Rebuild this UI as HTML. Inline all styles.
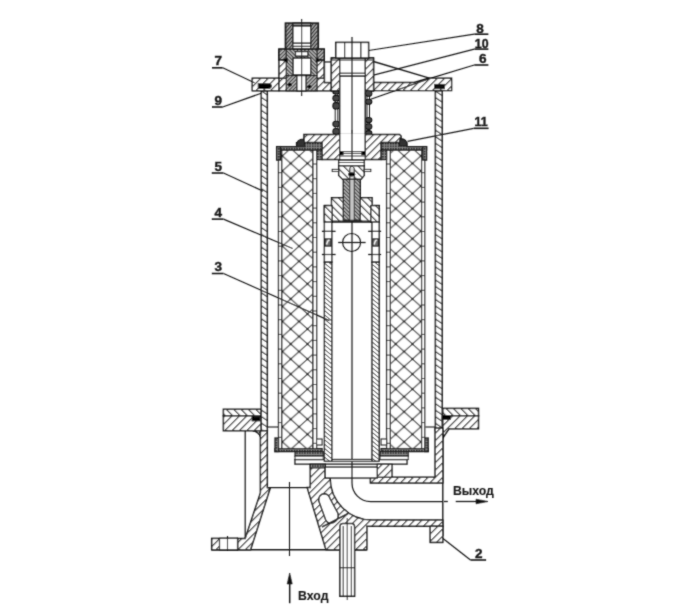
<!DOCTYPE html>
<html><head><meta charset="utf-8"><style>
html,body{margin:0;padding:0;background:#fff;}
svg{display:block;}
text{font-family:"Liberation Sans",sans-serif;fill:#1a1a1a;font-weight:bold;}
</style></head><body>
<svg width="698" height="612" viewBox="0 0 698 612"><defs><filter id='bl' x='-5%' y='-5%' width='110%' height='110%'><feConvolveMatrix order='3' kernelMatrix='0.3 1 0.3 1 6 1 0.3 1 0.3' edgeMode='none'/></filter><pattern id="hA" patternUnits="userSpaceOnUse" width="5.2" height="5.2" patternTransform="rotate(45)">
 <rect width="5.2" height="5.2" fill="#fff"/><line x1="0" y1="-1" x2="0" y2="6.2" stroke="#1a1a1a" stroke-width="2.2"/></pattern><pattern id="hB" patternUnits="userSpaceOnUse" width="5.2" height="5.2" patternTransform="rotate(-45)">
 <rect width="5.2" height="5.2" fill="#fff"/><line x1="0" y1="-1" x2="0" y2="6.2" stroke="#1a1a1a" stroke-width="2.2"/></pattern><pattern id="hW" patternUnits="userSpaceOnUse" width="5.4" height="5.4" patternTransform="rotate(-56)">
 <rect width="5.4" height="5.4" fill="#fff"/><line x1="0" y1="-1" x2="0" y2="6.4" stroke="#1a1a1a" stroke-width="2.2"/></pattern><pattern id="hD" patternUnits="userSpaceOnUse" width="2.6" height="2.6" patternTransform="rotate(-45)">
 <rect width="2.6" height="2.6" fill="#aaa"/><line x1="0" y1="-1" x2="0" y2="3.6" stroke="#111" stroke-width="1.3"/></pattern><pattern id="hD2" patternUnits="userSpaceOnUse" width="2.6" height="2.6" patternTransform="rotate(45)">
 <rect width="2.6" height="2.6" fill="#aaa"/><line x1="0" y1="-1" x2="0" y2="3.6" stroke="#111" stroke-width="1.3"/></pattern><pattern id="hT" patternUnits="userSpaceOnUse" width="3.3" height="3.3" patternTransform="rotate(-50)">
 <rect width="3.3" height="3.3" fill="#fff"/><line x1="0" y1="-1" x2="0" y2="4.3" stroke="#1a1a1a" stroke-width="1.6"/></pattern><pattern id="hTh" patternUnits="userSpaceOnUse" width="2.6" height="2.6" patternTransform="rotate(40)">
 <rect width="2.6" height="2.6" fill="#999"/><line x1="0" y1="-1" x2="0" y2="3.6" stroke="#0a0a0a" stroke-width="1.5"/></pattern><pattern id="dots" patternUnits="userSpaceOnUse" width="2.6" height="2.6">
 <rect width="2.6" height="2.6" fill="#888"/><rect width="1.4" height="1.4" fill="#111"/></pattern><pattern id="xh" patternUnits="userSpaceOnUse" width="16.7" height="15.05" x="282.4" y="306.4">
 <rect width="16.7" height="15.05" fill="#fff"/>
 <line x1="-1.67" y1="-1.505" x2="18.369999999999997" y2="16.555" stroke="#303030" stroke-width="1.1"/>
 <line x1="-1.67" y1="16.555" x2="18.369999999999997" y2="-1.505" stroke="#303030" stroke-width="1.1"/>
 <circle cx="0" cy="0" r="1.2" fill="#151515"/><circle cx="16.7" cy="0" r="1.2" fill="#151515"/>
 <circle cx="0" cy="15.05" r="1.2" fill="#151515"/><circle cx="16.7" cy="15.05" r="1.2" fill="#151515"/>
 <circle cx="8.35" cy="7.525" r="1.2" fill="#151515"/></pattern><pattern id="xh2" patternUnits="userSpaceOnUse" width="16.7" height="15.05" x="420.8" y="306.4">
 <rect width="16.7" height="15.05" fill="#fff"/>
 <line x1="-1.67" y1="-1.505" x2="18.369999999999997" y2="16.555" stroke="#303030" stroke-width="1.1"/>
 <line x1="-1.67" y1="16.555" x2="18.369999999999997" y2="-1.505" stroke="#303030" stroke-width="1.1"/>
 <circle cx="0" cy="0" r="1.2" fill="#151515"/><circle cx="16.7" cy="0" r="1.2" fill="#151515"/>
 <circle cx="0" cy="15.05" r="1.2" fill="#151515"/><circle cx="16.7" cy="15.05" r="1.2" fill="#151515"/>
 <circle cx="8.35" cy="7.525" r="1.2" fill="#151515"/></pattern></defs><g filter="url(#bl)"><rect x="261.3" y="90.8" width="6.0" height="339.9" fill="url(#hW)" stroke="#1a1a1a" stroke-width="1.5" />
<rect x="435.4" y="90.8" width="6.8" height="339.9" fill="url(#hW)" stroke="#1a1a1a" stroke-width="1.5" />
<polygon points="252.2,78.3 279,78.3 279,90.8 252.2,90.8" fill="url(#hA)" stroke="#1a1a1a" stroke-width="1.38" />
<polygon points="279,78.3 324.5,78.3 324.5,82.5 331.4,82.5 331.4,90.8 279,90.8" fill="url(#hA)" stroke="#1a1a1a" stroke-width="1.38" />
<polygon points="373.5,82.5 414,82.5 428.5,78.3 451.6,78.3 451.6,90.6 373.5,90.6" fill="url(#hA)" stroke="#1a1a1a" stroke-width="1.38" />
<path d="M258.3,83.8 L269.5,83.8 Q273.5,86 269.5,88.4 L258.3,88.4 Z" fill="#000" stroke="#1a1a1a" stroke-width="1.12" />
<rect x="434.5" y="84.4" width="10.0" height="4.3" fill="#111" stroke="#1a1a1a" stroke-width="1.0" />
<rect x="279" y="49.2" width="45.2" height="29.1" fill="url(#hA)" stroke="#1a1a1a" stroke-width="1.5" />
<rect x="279" y="49.2" width="45.2" height="10.8" fill="url(#hD2)" stroke="#1a1a1a" stroke-width="1.5" />
<rect x="286.2" y="49.2" width="30.9" height="26.4" fill="url(#hD)" stroke="#1a1a1a" stroke-width="1.12" />
<rect x="286.2" y="75.6" width="30.9" height="15.2" fill="url(#hD2)" stroke="#1a1a1a" stroke-width="1.12" />
<rect x="296.9" y="75.6" width="9.1" height="15.2" fill="#fff" stroke="#1a1a1a" stroke-width="1.25" />
<ellipse cx="289.8" cy="84.7" rx="2.2" ry="1.8" fill="#000"/>
<ellipse cx="309.4" cy="86.8" rx="2.2" ry="1.8" fill="#000"/>
<rect x="293.1" y="58.1" width="17.6" height="16.7" fill="#fff" stroke="#1a1a1a" stroke-width="1.38" />
<rect x="295.5" y="51.6" width="12.4" height="4.5" fill="#fff" stroke="#1a1a1a" stroke-width="1.25" />
<polygon points="281,60 287.5,58 287.5,62.5" fill="#000" stroke="#1a1a1a" stroke-width="0.62" />
<polygon points="322.5,60 316,58 316,62.5" fill="#000" stroke="#1a1a1a" stroke-width="0.62" />
<rect x="285.5" y="23.2" width="32.7" height="26.0" fill="url(#hTh)" stroke="#1a1a1a" stroke-width="1.75" />
<rect x="292.9" y="23.2" width="17.8" height="2.8" fill="#888" stroke="#1a1a1a" stroke-width="1.25" />
<rect x="292.9" y="26" width="17.8" height="17.3" fill="#fff" stroke="#1a1a1a" stroke-width="1.38" />
<rect x="292.9" y="43.3" width="17.8" height="5.2" fill="#fff" stroke="#1a1a1a" stroke-width="1.12" />
<line x1="292.9" y1="46.3" x2="310.7" y2="46.3" stroke="#1a1a1a" stroke-width="1.12" />
<rect x="324.5" y="62" width="6.9" height="20.5" fill="#fff" stroke="#1a1a1a" stroke-width="1.38" />
<line x1="301.7" y1="19" x2="301.7" y2="96" stroke="#1a1a1a" stroke-width="1.0" />
<rect x="331.4" y="58" width="42.1" height="32.8" fill="#fff" stroke="#1a1a1a" stroke-width="1.5" />
<rect x="331.4" y="58" width="8.3" height="32.8" fill="url(#hA)" stroke="#1a1a1a" stroke-width="1.38" />
<rect x="365.2" y="58" width="8.3" height="32.8" fill="url(#hA)" stroke="#1a1a1a" stroke-width="1.38" />
<line x1="331.4" y1="60" x2="373.5" y2="60" stroke="#1a1a1a" stroke-width="1.0" />
<rect x="339.7" y="73.2" width="25.5" height="3.0" fill="#fff" stroke="#1a1a1a" stroke-width="1.12" />
<rect x="335.8" y="42.4" width="32.8" height="15.6" fill="#fff" stroke="#1a1a1a" stroke-width="1.5" />
<line x1="344.6" y1="42.4" x2="344.6" y2="58" stroke="#1a1a1a" stroke-width="1.25" />
<line x1="360.8" y1="42.4" x2="360.8" y2="58" stroke="#1a1a1a" stroke-width="1.25" />
<rect x="339.7" y="76.2" width="25.5" height="75.4" fill="#fff" stroke="#1a1a1a" stroke-width="1.5" />
<line x1="352.0" y1="37" x2="352.0" y2="461" stroke="#1a1a1a" stroke-width="1.25" />
<line x1="335.2" y1="90.8" x2="335.2" y2="135" stroke="#1a1a1a" stroke-width="1.0" />
<line x1="337.8" y1="90.8" x2="337.8" y2="135" stroke="#1a1a1a" stroke-width="1.0" />
<rect x="332.9" y="90.6" width="6.6" height="3.4" rx="3.2" ry="2.8" fill="#444" stroke="#111" stroke-width="1.1"/>
<rect x="332.9" y="95.4" width="6.6" height="5.6" rx="3.2" ry="2.8" fill="#444" stroke="#111" stroke-width="1.1"/>
<rect x="332.9" y="102.6" width="6.6" height="6.4" rx="3.2" ry="2.8" fill="#444" stroke="#111" stroke-width="1.1"/>
<rect x="332.9" y="121.3" width="6.6" height="5.5" rx="3.2" ry="2.8" fill="#444" stroke="#111" stroke-width="1.1"/>
<rect x="332.9" y="128.5" width="6.6" height="6.0" rx="3.2" ry="2.8" fill="#444" stroke="#111" stroke-width="1.1"/>
<line x1="367" y1="90.8" x2="367" y2="135" stroke="#1a1a1a" stroke-width="1.0" />
<line x1="369.5" y1="90.8" x2="369.5" y2="135" stroke="#1a1a1a" stroke-width="1.0" />
<rect x="365.4" y="90.3" width="6.4" height="5.9" rx="3.2" ry="2.8" fill="#444" stroke="#111" stroke-width="1.1"/>
<rect x="365.4" y="99.2" width="6.4" height="5.1" rx="3.2" ry="2.8" fill="#444" stroke="#111" stroke-width="1.1"/>
<rect x="365.4" y="117.5" width="6.4" height="5.1" rx="3.2" ry="2.8" fill="#444" stroke="#111" stroke-width="1.1"/>
<rect x="365.4" y="123.8" width="6.4" height="5.6" rx="3.2" ry="2.8" fill="#444" stroke="#111" stroke-width="1.1"/>
<rect x="365.4" y="130.6" width="6.4" height="4.7" rx="3.2" ry="2.8" fill="#444" stroke="#111" stroke-width="1.1"/>
<polygon points="304,134.5 399.5,134.5 401,136 401,142.6 381.1,142.6 381.1,159.6 322.1,159.6 322.1,142.6 304,142.6" fill="url(#hA)" stroke="#1a1a1a" stroke-width="1.5" />
<rect x="339.7" y="133.5" width="25.5" height="18.1" fill="#fff" stroke="none" stroke-width="0.0" />
<line x1="339.7" y1="133" x2="339.7" y2="151.6" stroke="#1a1a1a" stroke-width="1.38" />
<line x1="365.2" y1="133" x2="365.2" y2="151.6" stroke="#1a1a1a" stroke-width="1.38" />
<rect x="339.7" y="151.6" width="25.5" height="8.0" fill="#fff" stroke="#1a1a1a" stroke-width="1.12" />
<line x1="339.7" y1="153.5" x2="365.2" y2="153.5" stroke="#1a1a1a" stroke-width="0.88" />
<line x1="339.7" y1="156" x2="365.2" y2="156" stroke="#1a1a1a" stroke-width="0.88" />
<rect x="339.7" y="151.6" width="3.5" height="3.4" fill="#000" stroke="#1a1a1a" stroke-width="0.5" />
<rect x="361.7" y="151.6" width="3.5" height="3.4" fill="#000" stroke="#1a1a1a" stroke-width="0.5" />
<line x1="352.0" y1="130" x2="352.0" y2="160" stroke="#1a1a1a" stroke-width="1.25" />
<rect x="281.6" y="150.1" width="31.3" height="298.5" fill="url(#xh)" stroke="#1a1a1a" stroke-width="1.25" />
<rect x="278.5" y="150.1" width="3.1" height="298.5" fill="#fff" stroke="#1a1a1a" stroke-width="1.25" />
<rect x="312.9" y="150.1" width="3.7" height="298.5" fill="#fff" stroke="#1a1a1a" stroke-width="1.25" />
<line x1="278.5" y1="158" x2="281.6" y2="158" stroke="#1a1a1a" stroke-width="0.88" />
<line x1="312.9" y1="164" x2="316.6" y2="164" stroke="#1a1a1a" stroke-width="0.88" />
<line x1="278.5" y1="172.7" x2="281.6" y2="172.7" stroke="#1a1a1a" stroke-width="0.88" />
<line x1="312.9" y1="178.7" x2="316.6" y2="178.7" stroke="#1a1a1a" stroke-width="0.88" />
<line x1="278.5" y1="187.39999999999998" x2="281.6" y2="187.39999999999998" stroke="#1a1a1a" stroke-width="0.88" />
<line x1="312.9" y1="193.39999999999998" x2="316.6" y2="193.39999999999998" stroke="#1a1a1a" stroke-width="0.88" />
<line x1="278.5" y1="202.09999999999997" x2="281.6" y2="202.09999999999997" stroke="#1a1a1a" stroke-width="0.88" />
<line x1="312.9" y1="208.09999999999997" x2="316.6" y2="208.09999999999997" stroke="#1a1a1a" stroke-width="0.88" />
<line x1="278.5" y1="216.79999999999995" x2="281.6" y2="216.79999999999995" stroke="#1a1a1a" stroke-width="0.88" />
<line x1="312.9" y1="222.79999999999995" x2="316.6" y2="222.79999999999995" stroke="#1a1a1a" stroke-width="0.88" />
<line x1="278.5" y1="231.49999999999994" x2="281.6" y2="231.49999999999994" stroke="#1a1a1a" stroke-width="0.88" />
<line x1="312.9" y1="237.49999999999994" x2="316.6" y2="237.49999999999994" stroke="#1a1a1a" stroke-width="0.88" />
<line x1="278.5" y1="246.19999999999993" x2="281.6" y2="246.19999999999993" stroke="#1a1a1a" stroke-width="0.88" />
<line x1="312.9" y1="252.19999999999993" x2="316.6" y2="252.19999999999993" stroke="#1a1a1a" stroke-width="0.88" />
<line x1="278.5" y1="260.8999999999999" x2="281.6" y2="260.8999999999999" stroke="#1a1a1a" stroke-width="0.88" />
<line x1="312.9" y1="266.8999999999999" x2="316.6" y2="266.8999999999999" stroke="#1a1a1a" stroke-width="0.88" />
<line x1="278.5" y1="275.5999999999999" x2="281.6" y2="275.5999999999999" stroke="#1a1a1a" stroke-width="0.88" />
<line x1="312.9" y1="281.5999999999999" x2="316.6" y2="281.5999999999999" stroke="#1a1a1a" stroke-width="0.88" />
<line x1="278.5" y1="290.2999999999999" x2="281.6" y2="290.2999999999999" stroke="#1a1a1a" stroke-width="0.88" />
<line x1="312.9" y1="296.2999999999999" x2="316.6" y2="296.2999999999999" stroke="#1a1a1a" stroke-width="0.88" />
<line x1="278.5" y1="304.9999999999999" x2="281.6" y2="304.9999999999999" stroke="#1a1a1a" stroke-width="0.88" />
<line x1="312.9" y1="310.9999999999999" x2="316.6" y2="310.9999999999999" stroke="#1a1a1a" stroke-width="0.88" />
<line x1="278.5" y1="319.6999999999999" x2="281.6" y2="319.6999999999999" stroke="#1a1a1a" stroke-width="0.88" />
<line x1="312.9" y1="325.6999999999999" x2="316.6" y2="325.6999999999999" stroke="#1a1a1a" stroke-width="0.88" />
<line x1="278.5" y1="334.39999999999986" x2="281.6" y2="334.39999999999986" stroke="#1a1a1a" stroke-width="0.88" />
<line x1="312.9" y1="340.39999999999986" x2="316.6" y2="340.39999999999986" stroke="#1a1a1a" stroke-width="0.88" />
<line x1="278.5" y1="349.09999999999985" x2="281.6" y2="349.09999999999985" stroke="#1a1a1a" stroke-width="0.88" />
<line x1="312.9" y1="355.09999999999985" x2="316.6" y2="355.09999999999985" stroke="#1a1a1a" stroke-width="0.88" />
<line x1="278.5" y1="363.79999999999984" x2="281.6" y2="363.79999999999984" stroke="#1a1a1a" stroke-width="0.88" />
<line x1="312.9" y1="369.79999999999984" x2="316.6" y2="369.79999999999984" stroke="#1a1a1a" stroke-width="0.88" />
<line x1="278.5" y1="378.49999999999983" x2="281.6" y2="378.49999999999983" stroke="#1a1a1a" stroke-width="0.88" />
<line x1="312.9" y1="384.49999999999983" x2="316.6" y2="384.49999999999983" stroke="#1a1a1a" stroke-width="0.88" />
<line x1="278.5" y1="393.1999999999998" x2="281.6" y2="393.1999999999998" stroke="#1a1a1a" stroke-width="0.88" />
<line x1="312.9" y1="399.1999999999998" x2="316.6" y2="399.1999999999998" stroke="#1a1a1a" stroke-width="0.88" />
<line x1="278.5" y1="407.8999999999998" x2="281.6" y2="407.8999999999998" stroke="#1a1a1a" stroke-width="0.88" />
<line x1="312.9" y1="413.8999999999998" x2="316.6" y2="413.8999999999998" stroke="#1a1a1a" stroke-width="0.88" />
<line x1="278.5" y1="422.5999999999998" x2="281.6" y2="422.5999999999998" stroke="#1a1a1a" stroke-width="0.88" />
<line x1="312.9" y1="428.5999999999998" x2="316.6" y2="428.5999999999998" stroke="#1a1a1a" stroke-width="0.88" />
<line x1="278.5" y1="437.2999999999998" x2="281.6" y2="437.2999999999998" stroke="#1a1a1a" stroke-width="0.88" />
<line x1="312.9" y1="443.2999999999998" x2="316.6" y2="443.2999999999998" stroke="#1a1a1a" stroke-width="0.88" />
<polygon points="276.6,146.6 296.5,146.6 296.5,142.6 322.1,142.6 322.1,150.1 276.6,150.1" fill="url(#dots)" stroke="#1a1a1a" stroke-width="1.25" />
<rect x="276.6" y="146.6" width="3.8" height="13.5" fill="url(#dots)" stroke="#1a1a1a" stroke-width="1.25" />
<rect x="316.6" y="150.1" width="5.5" height="9.5" fill="url(#dots)" stroke="#1a1a1a" stroke-width="1.12" />
<rect x="275.0" y="448.6" width="47.1" height="3.0" fill="url(#dots)" stroke="#1a1a1a" stroke-width="1.25" />
<rect x="275" y="438" width="3.5" height="13.6" fill="url(#dots)" stroke="#1a1a1a" stroke-width="1.25" />
<rect x="316.6" y="439" width="5.5" height="6" fill="#fff" stroke="#1a1a1a" stroke-width="1.12" />
<rect x="390.3" y="150.1" width="31.3" height="298.5" fill="url(#xh2)" stroke="#1a1a1a" stroke-width="1.25" />
<rect x="421.6" y="150.1" width="3.1" height="298.5" fill="#fff" stroke="#1a1a1a" stroke-width="1.25" />
<rect x="386.6" y="150.1" width="3.7" height="298.5" fill="#fff" stroke="#1a1a1a" stroke-width="1.25" />
<line x1="421.6" y1="158" x2="424.7" y2="158" stroke="#1a1a1a" stroke-width="0.88" />
<line x1="386.6" y1="164" x2="390.3" y2="164" stroke="#1a1a1a" stroke-width="0.88" />
<line x1="421.6" y1="172.7" x2="424.7" y2="172.7" stroke="#1a1a1a" stroke-width="0.88" />
<line x1="386.6" y1="178.7" x2="390.3" y2="178.7" stroke="#1a1a1a" stroke-width="0.88" />
<line x1="421.6" y1="187.39999999999998" x2="424.7" y2="187.39999999999998" stroke="#1a1a1a" stroke-width="0.88" />
<line x1="386.6" y1="193.39999999999998" x2="390.3" y2="193.39999999999998" stroke="#1a1a1a" stroke-width="0.88" />
<line x1="421.6" y1="202.09999999999997" x2="424.7" y2="202.09999999999997" stroke="#1a1a1a" stroke-width="0.88" />
<line x1="386.6" y1="208.09999999999997" x2="390.3" y2="208.09999999999997" stroke="#1a1a1a" stroke-width="0.88" />
<line x1="421.6" y1="216.79999999999995" x2="424.7" y2="216.79999999999995" stroke="#1a1a1a" stroke-width="0.88" />
<line x1="386.6" y1="222.79999999999995" x2="390.3" y2="222.79999999999995" stroke="#1a1a1a" stroke-width="0.88" />
<line x1="421.6" y1="231.49999999999994" x2="424.7" y2="231.49999999999994" stroke="#1a1a1a" stroke-width="0.88" />
<line x1="386.6" y1="237.49999999999994" x2="390.3" y2="237.49999999999994" stroke="#1a1a1a" stroke-width="0.88" />
<line x1="421.6" y1="246.19999999999993" x2="424.7" y2="246.19999999999993" stroke="#1a1a1a" stroke-width="0.88" />
<line x1="386.6" y1="252.19999999999993" x2="390.3" y2="252.19999999999993" stroke="#1a1a1a" stroke-width="0.88" />
<line x1="421.6" y1="260.8999999999999" x2="424.7" y2="260.8999999999999" stroke="#1a1a1a" stroke-width="0.88" />
<line x1="386.6" y1="266.8999999999999" x2="390.3" y2="266.8999999999999" stroke="#1a1a1a" stroke-width="0.88" />
<line x1="421.6" y1="275.5999999999999" x2="424.7" y2="275.5999999999999" stroke="#1a1a1a" stroke-width="0.88" />
<line x1="386.6" y1="281.5999999999999" x2="390.3" y2="281.5999999999999" stroke="#1a1a1a" stroke-width="0.88" />
<line x1="421.6" y1="290.2999999999999" x2="424.7" y2="290.2999999999999" stroke="#1a1a1a" stroke-width="0.88" />
<line x1="386.6" y1="296.2999999999999" x2="390.3" y2="296.2999999999999" stroke="#1a1a1a" stroke-width="0.88" />
<line x1="421.6" y1="304.9999999999999" x2="424.7" y2="304.9999999999999" stroke="#1a1a1a" stroke-width="0.88" />
<line x1="386.6" y1="310.9999999999999" x2="390.3" y2="310.9999999999999" stroke="#1a1a1a" stroke-width="0.88" />
<line x1="421.6" y1="319.6999999999999" x2="424.7" y2="319.6999999999999" stroke="#1a1a1a" stroke-width="0.88" />
<line x1="386.6" y1="325.6999999999999" x2="390.3" y2="325.6999999999999" stroke="#1a1a1a" stroke-width="0.88" />
<line x1="421.6" y1="334.39999999999986" x2="424.7" y2="334.39999999999986" stroke="#1a1a1a" stroke-width="0.88" />
<line x1="386.6" y1="340.39999999999986" x2="390.3" y2="340.39999999999986" stroke="#1a1a1a" stroke-width="0.88" />
<line x1="421.6" y1="349.09999999999985" x2="424.7" y2="349.09999999999985" stroke="#1a1a1a" stroke-width="0.88" />
<line x1="386.6" y1="355.09999999999985" x2="390.3" y2="355.09999999999985" stroke="#1a1a1a" stroke-width="0.88" />
<line x1="421.6" y1="363.79999999999984" x2="424.7" y2="363.79999999999984" stroke="#1a1a1a" stroke-width="0.88" />
<line x1="386.6" y1="369.79999999999984" x2="390.3" y2="369.79999999999984" stroke="#1a1a1a" stroke-width="0.88" />
<line x1="421.6" y1="378.49999999999983" x2="424.7" y2="378.49999999999983" stroke="#1a1a1a" stroke-width="0.88" />
<line x1="386.6" y1="384.49999999999983" x2="390.3" y2="384.49999999999983" stroke="#1a1a1a" stroke-width="0.88" />
<line x1="421.6" y1="393.1999999999998" x2="424.7" y2="393.1999999999998" stroke="#1a1a1a" stroke-width="0.88" />
<line x1="386.6" y1="399.1999999999998" x2="390.3" y2="399.1999999999998" stroke="#1a1a1a" stroke-width="0.88" />
<line x1="421.6" y1="407.8999999999998" x2="424.7" y2="407.8999999999998" stroke="#1a1a1a" stroke-width="0.88" />
<line x1="386.6" y1="413.8999999999998" x2="390.3" y2="413.8999999999998" stroke="#1a1a1a" stroke-width="0.88" />
<line x1="421.6" y1="422.5999999999998" x2="424.7" y2="422.5999999999998" stroke="#1a1a1a" stroke-width="0.88" />
<line x1="386.6" y1="428.5999999999998" x2="390.3" y2="428.5999999999998" stroke="#1a1a1a" stroke-width="0.88" />
<line x1="421.6" y1="437.2999999999998" x2="424.7" y2="437.2999999999998" stroke="#1a1a1a" stroke-width="0.88" />
<line x1="386.6" y1="443.2999999999998" x2="390.3" y2="443.2999999999998" stroke="#1a1a1a" stroke-width="0.88" />
<polygon points="426.6,146.6 406.7,146.6 406.7,142.6 381.1,142.6 381.1,150.1 426.6,150.1" fill="url(#dots)" stroke="#1a1a1a" stroke-width="1.25" />
<rect x="422.8" y="146.6" width="3.8" height="13.5" fill="url(#dots)" stroke="#1a1a1a" stroke-width="1.25" />
<rect x="381.1" y="150.1" width="5.5" height="9.5" fill="url(#dots)" stroke="#1a1a1a" stroke-width="1.12" />
<rect x="381.1" y="448.6" width="47.1" height="3.0" fill="url(#dots)" stroke="#1a1a1a" stroke-width="1.25" />
<rect x="424.7" y="438" width="3.5" height="13.6" fill="url(#dots)" stroke="#1a1a1a" stroke-width="1.25" />
<rect x="381.1" y="439" width="5.5" height="6" fill="#fff" stroke="#1a1a1a" stroke-width="1.12" />
<path d="M296.5,146.6 Q296,139 304,139 L305,146.6 Z" fill="#333" stroke="#1a1a1a" stroke-width="1.12" />
<path d="M407.1,146 Q407.5,138.6 400,138.6 L399,146 Z" fill="#333" stroke="#1a1a1a" stroke-width="1.12" />
<rect x="295" y="451.6" width="28.2" height="4.5" fill="url(#dots)" stroke="#1a1a1a" stroke-width="1.12" />
<rect x="295" y="456.1" width="28.2" height="3.5" fill="#fff" stroke="#1a1a1a" stroke-width="1.0" />
<rect x="380.0" y="451.6" width="28.2" height="4.5" fill="url(#dots)" stroke="#1a1a1a" stroke-width="1.12" />
<rect x="380.0" y="456.1" width="28.2" height="3.5" fill="#fff" stroke="#1a1a1a" stroke-width="1.0" />
<rect x="295" y="459.6" width="112" height="4.5" fill="#fff" stroke="#1a1a1a" stroke-width="1.38" />
<line x1="324.7" y1="461.6" x2="379" y2="461.6" stroke="#1a1a1a" stroke-width="1.0" />
<rect x="324.4" y="205.6" width="7.4" height="56.6" fill="#fff" stroke="#1a1a1a" stroke-width="1.38" />
<rect x="324.4" y="262.2" width="7.4" height="199.1" fill="url(#hT)" stroke="#1a1a1a" stroke-width="1.38" />
<rect x="325.2" y="238.8" width="5.8" height="7.4" fill="#6a6a6a" stroke="#1a1a1a" stroke-width="1.0" />
<path d="M326.59999999999997,244.5 Q328.1,239 329.6,240.5" fill="none" stroke="#eee" stroke-width="1.5" />
<rect x="372" y="205.6" width="7.2" height="56.6" fill="#fff" stroke="#1a1a1a" stroke-width="1.38" />
<rect x="372" y="262.2" width="7.2" height="199.1" fill="url(#hT)" stroke="#1a1a1a" stroke-width="1.38" />
<rect x="372.8" y="238.8" width="5.6" height="7.4" fill="#6a6a6a" stroke="#1a1a1a" stroke-width="1.0" />
<path d="M374.2,244.5 Q375.6,239 377.0,240.5" fill="none" stroke="#eee" stroke-width="1.5" />
<line x1="321.9" y1="231.3" x2="335.6" y2="231.3" stroke="#1a1a1a" stroke-width="1.25" />
<line x1="321.9" y1="254.5" x2="335.6" y2="254.5" stroke="#1a1a1a" stroke-width="1.25" />
<line x1="368.2" y1="231.3" x2="381.1" y2="231.3" stroke="#1a1a1a" stroke-width="1.25" />
<line x1="368.2" y1="254.5" x2="381.1" y2="254.5" stroke="#1a1a1a" stroke-width="1.25" />
<rect x="338.7" y="160.2" width="25.5" height="5.5" fill="#fff" stroke="#1a1a1a" stroke-width="1.25" />
<line x1="338.7" y1="162.5" x2="364.2" y2="162.5" stroke="#1a1a1a" stroke-width="1.0" />
<polygon points="338.7,165.7 364.2,165.7 364.2,175.5 361,179.4 342.6,179.4 338.7,175.5" fill="url(#hB)" stroke="#1a1a1a" stroke-width="1.38" />
<rect x="332.2" y="169.4" width="6.5" height="2.0" fill="#fff" stroke="#1a1a1a" stroke-width="1.0" />
<rect x="364.2" y="169.4" width="6.6" height="2.0" fill="#fff" stroke="#1a1a1a" stroke-width="1.0" />
<path d="M349.8,179.4 L349.8,168 Q351.9,164.5 354.2,168 L354.2,179.4 Z" fill="#ddd" stroke="#1a1a1a" stroke-width="1.0" />
<ellipse cx="351.6" cy="174.3" rx="3.6" ry="2.1" fill="#000"/>
<rect x="331.5" y="197.7" width="40.6" height="23.5" fill="url(#hB)" stroke="#1a1a1a" stroke-width="1.38" />
<rect x="324.4" y="205.6" width="7.8" height="16.4" fill="url(#hB)" stroke="#1a1a1a" stroke-width="1.38" />
<rect x="370.8" y="205.6" width="8.4" height="16.4" fill="url(#hB)" stroke="#1a1a1a" stroke-width="1.38" />
<rect x="343.3" y="179.4" width="17.0" height="40.8" fill="url(#hD)" stroke="#1a1a1a" stroke-width="1.38" />
<rect x="349.8" y="179.4" width="4.4" height="40.8" fill="#c8c8c8" stroke="#1a1a1a" stroke-width="0.88" />
<circle cx="351.6" cy="242.5" r="9" fill="none" stroke="#1a1a1a" stroke-width="1.2"/>
<line x1="338.2" y1="242.5" x2="365.6" y2="242.5" stroke="#1a1a1a" stroke-width="1.25" />
<line x1="331.8" y1="222" x2="372" y2="222" stroke="#1a1a1a" stroke-width="1.38" />
<rect x="223.4" y="409.3" width="37.6" height="6.5" fill="url(#hB)" stroke="#1a1a1a" stroke-width="1.5" />
<rect x="223.4" y="415.8" width="37.6" height="14.9" fill="url(#hA)" stroke="#1a1a1a" stroke-width="1.5" />
<rect x="252" y="416.6" width="8" height="4.4" fill="#000" stroke="#1a1a1a" stroke-width="0.75" />
<rect x="442.8" y="408.4" width="35.7" height="7.4" fill="url(#hB)" stroke="#1a1a1a" stroke-width="1.5" />
<polygon points="442.8,415.8 478.5,415.8 478.5,428.8 449,428.8 442.8,438" fill="url(#hA)" stroke="#1a1a1a" stroke-width="1.5" />
<rect x="442" y="415.7" width="8.6" height="3.9" fill="#000" stroke="#1a1a1a" stroke-width="0.75" />
<path d="M252.8,430.7 Q258.5,431.5 260.9,437.4 L260.9,430.7 Z" fill="url(#hA)" stroke="#1a1a1a" stroke-width="1.38" />
<line x1="267.6" y1="427" x2="278.5" y2="427" stroke="#1a1a1a" stroke-width="1.12" />
<line x1="425.3" y1="427" x2="436.2" y2="427" stroke="#1a1a1a" stroke-width="1.12" />
<polygon points="260.4,430.7 267.3,430.7 267.3,487.6 270.2,488 250.6,549.8 237.5,549.8 237.5,538.4 245.2,538.4 260.4,493" fill="url(#hA)" stroke="#1a1a1a" stroke-width="1.5" />
<rect x="211.7" y="538.4" width="25.8" height="11.4" fill="url(#hA)" stroke="#1a1a1a" stroke-width="1.5" />
<rect x="219.5" y="538.4" width="18.0" height="11.4" fill="#fff" stroke="#1a1a1a" stroke-width="1.25" />
<line x1="227.5" y1="536" x2="227.5" y2="551" stroke="#1a1a1a" stroke-width="1.12" />
<line x1="245.2" y1="430.7" x2="245.2" y2="538.4" stroke="#1a1a1a" stroke-width="1.25" />
<line x1="267.3" y1="487.6" x2="307.2" y2="487.6" stroke="#1a1a1a" stroke-width="1.38" />
<line x1="289.5" y1="482" x2="289.5" y2="556" stroke="#1a1a1a" stroke-width="1.12" />
<polygon points="435.1,428 442.8,428 442.8,483.1 370.4,483.1 370.4,477.3 435.1,477.3" fill="url(#hA)" stroke="#1a1a1a" stroke-width="1.5" />
<rect x="377.3" y="464.1" width="14.7" height="13.2" fill="url(#hA)" stroke="#1a1a1a" stroke-width="1.38" />
<line x1="442.8" y1="428" x2="442.8" y2="536" stroke="#1a1a1a" stroke-width="1.38" />
<path d="M310.3,464.1 L325.2,464.1 L325.2,478 L330.1,478 A42,42 0 0 0 372,520 L442.8,520 L442.8,526.3 L366.8,526.3 L366.8,549.8 L326,549.8 L307.2,487.6 L310.3,487.6 Z" fill="url(#hA)" stroke="#1a1a1a" stroke-width="1.5" />
<rect x="310.3" y="464.1" width="14.9" height="3.9" fill="url(#dots)" stroke="#1a1a1a" stroke-width="1.0" />
<rect x="325.2" y="467.1" width="52.1" height="10.9" fill="#fff" stroke="#1a1a1a" stroke-width="1.38" />
<path d="M318.8,501 Q318.2,494 324.8,493.8 Q328.6,494.2 330,498.5 L337.8,513 Q339.5,519.5 333.5,522.5 Q327.5,524.5 325.5,519.5 Z" fill="#fff" stroke="#1a1a1a" stroke-width="1.5" />
<line x1="322" y1="527" x2="348" y2="513.5" stroke="#1a1a1a" stroke-width="1.5" />
<rect x="430.2" y="526.3" width="12.6" height="16.1" fill="url(#hA)" stroke="#1a1a1a" stroke-width="1.5" />
<path d="M352.0,461 L352.0,483 A18.5,18.5 0 0 0 370.5,501.5 L442.8,501.5" fill="none" stroke="#1a1a1a" stroke-width="1.25" />
<path d="M339.9,596.2 L339.9,527 Q339.9,523.6 343,523.6 L351.5,523.6 Q354.6,523.6 354.6,527 L354.6,596.2 Z" fill="#fff" stroke="#1a1a1a" stroke-width="1.5" />
<line x1="343.2" y1="526" x2="343.2" y2="596" stroke="#1a1a1a" stroke-width="1.0" />
<line x1="351.3" y1="526" x2="351.3" y2="596" stroke="#1a1a1a" stroke-width="1.0" />
<line x1="347.2" y1="518" x2="347.2" y2="600" stroke="#1a1a1a" stroke-width="0.88" />
<line x1="339.9" y1="567.7" x2="354.6" y2="567.7" stroke="#1a1a1a" stroke-width="1.12" />
<line x1="211.7" y1="549.8" x2="339.9" y2="549.8" stroke="#1a1a1a" stroke-width="1.5" />
<line x1="354.6" y1="549.8" x2="366.8" y2="549.8" stroke="#1a1a1a" stroke-width="1.5" />
<line x1="289.7" y1="582" x2="289.7" y2="603.2" stroke="#1a1a1a" stroke-width="1.5" />
<polygon points="289.7,573 287.2,584 292.2,584" fill="#111" stroke="#1a1a1a" stroke-width="0.62" />
<line x1="444" y1="501.5" x2="447.8" y2="501.5" stroke="#1a1a1a" stroke-width="1.25" />
<line x1="455.7" y1="501.5" x2="476" y2="501.5" stroke="#1a1a1a" stroke-width="1.25" />
<polygon points="488,501.5 476,499.2 476,503.8" fill="#111" stroke="#1a1a1a" stroke-width="0.62" />
<text transform="translate(214.5,65) scale(1.1,1)" x="0" y="0" font-size="12.3" font-weight="normal" stroke="#1a1a1a" stroke-width="0.4">7</text>
<line x1="212" y1="67.8" x2="222.7" y2="67.8" stroke="#1a1a1a" stroke-width="1.62" />
<line x1="222.7" y1="67.8" x2="254.5" y2="82.8" stroke="#1a1a1a" stroke-width="1.25" />
<text transform="translate(214.5,105) scale(1.1,1)" x="0" y="0" font-size="12.3" font-weight="normal" stroke="#1a1a1a" stroke-width="0.4">9</text>
<line x1="212" y1="107" x2="222.7" y2="107" stroke="#1a1a1a" stroke-width="1.62" />
<line x1="222.7" y1="107" x2="262" y2="93" stroke="#1a1a1a" stroke-width="1.25" />
<text transform="translate(214.5,171.2) scale(1.1,1)" x="0" y="0" font-size="12.3" font-weight="normal" stroke="#1a1a1a" stroke-width="0.4">5</text>
<line x1="211.8" y1="173" x2="223.5" y2="173" stroke="#1a1a1a" stroke-width="1.62" />
<line x1="223.5" y1="173" x2="263.2" y2="191.2" stroke="#1a1a1a" stroke-width="1.25" />
<text transform="translate(214.5,217) scale(1.1,1)" x="0" y="0" font-size="12.3" font-weight="normal" stroke="#1a1a1a" stroke-width="0.4">4</text>
<line x1="211.8" y1="219.1" x2="223.5" y2="219.1" stroke="#1a1a1a" stroke-width="1.62" />
<line x1="223.5" y1="219.1" x2="292.6" y2="248.5" stroke="#1a1a1a" stroke-width="1.25" />
<text transform="translate(214.5,270.6) scale(1.1,1)" x="0" y="0" font-size="12.3" font-weight="normal" stroke="#1a1a1a" stroke-width="0.4">3</text>
<line x1="211.8" y1="273.5" x2="223.5" y2="273.5" stroke="#1a1a1a" stroke-width="1.62" />
<line x1="223.5" y1="273.5" x2="329.4" y2="320.6" stroke="#1a1a1a" stroke-width="1.25" />
<text transform="translate(476.3,33.0) scale(1.1,1)" x="0" y="0" font-size="12.3" font-weight="normal" stroke="#1a1a1a" stroke-width="0.4">8</text>
<line x1="474.3" y1="34.2" x2="488.4" y2="34.2" stroke="#1a1a1a" stroke-width="1.62" />
<line x1="474.3" y1="34.2" x2="368.6" y2="50.5" stroke="#1a1a1a" stroke-width="1.25" />
<text transform="translate(474.8,47.8) scale(1.0,1)" x="0" y="0" font-size="12.3" font-weight="normal" stroke="#1a1a1a" stroke-width="0.4">10</text>
<line x1="474.3" y1="49.1" x2="488.4" y2="49.1" stroke="#1a1a1a" stroke-width="1.62" />
<line x1="474.3" y1="49.1" x2="373.5" y2="75.1" stroke="#1a1a1a" stroke-width="1.25" />
<text transform="translate(479,62.6) scale(1.1,1)" x="0" y="0" font-size="12.3" font-weight="normal" stroke="#1a1a1a" stroke-width="0.4">6</text>
<line x1="474.3" y1="65" x2="488.4" y2="65" stroke="#1a1a1a" stroke-width="1.62" />
<line x1="474.3" y1="65" x2="430.2" y2="78.4" stroke="#1a1a1a" stroke-width="1.25" />
<line x1="430.2" y1="78.4" x2="373.5" y2="61.5" stroke="#1a1a1a" stroke-width="1.38" />
<line x1="430.2" y1="78.4" x2="370" y2="99.5" stroke="#1a1a1a" stroke-width="1.25" />
<text transform="translate(474.6,125.6) scale(1.0,1)" x="0" y="0" font-size="12.3" font-weight="normal" stroke="#1a1a1a" stroke-width="0.4">11</text>
<line x1="473.7" y1="128.3" x2="488.6" y2="128.3" stroke="#1a1a1a" stroke-width="1.62" />
<line x1="473.7" y1="128.3" x2="407.5" y2="141.3" stroke="#1a1a1a" stroke-width="1.25" />
<text transform="translate(475.0,557.6) scale(1.1,1)" x="0" y="0" font-size="12.3" font-weight="normal" stroke="#1a1a1a" stroke-width="0.4">2</text>
<line x1="470.5" y1="560" x2="486.1" y2="560" stroke="#1a1a1a" stroke-width="1.62" />
<line x1="470.5" y1="560" x2="443" y2="538.5" stroke="#1a1a1a" stroke-width="1.25" />
<text transform="translate(452.9,494.8) scale(0.93,1)" x="0" y="0" font-size="13.2" font-weight="normal" stroke="#1a1a1a" stroke-width="0.15">Выход</text>
<text transform="translate(298.1,599.8) scale(0.93,1)" x="0" y="0" font-size="13.2" font-weight="normal" stroke="#1a1a1a" stroke-width="0.15">Вход</text></g></svg>
</body></html>
